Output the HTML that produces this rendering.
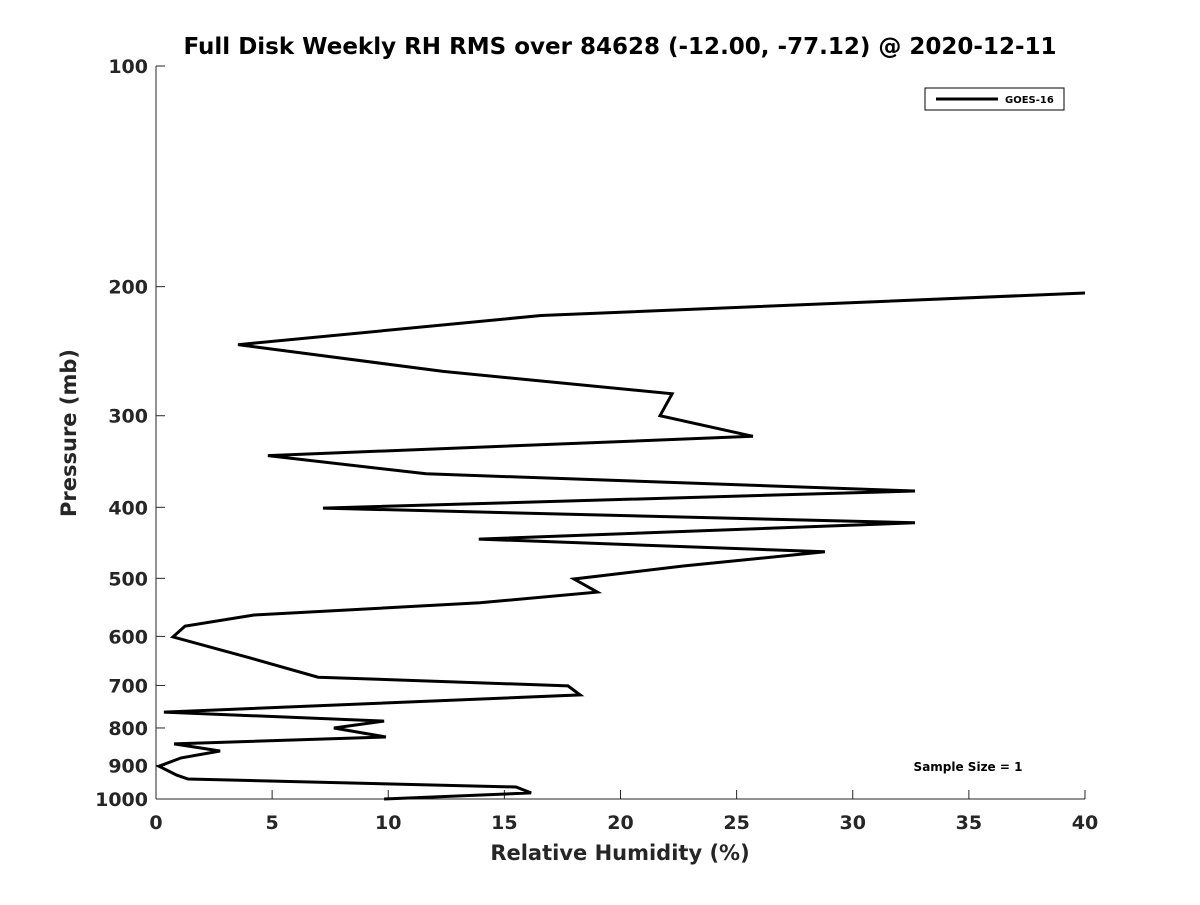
<!DOCTYPE html>
<html><head><meta charset="utf-8"><style>
body{margin:0;background:#fff;}
svg text{font-family:"DejaVu Sans","Liberation Sans",sans-serif;font-weight:bold;fill:#262626;}
</style></head><body>
<svg id="chart" width="1200" height="900">
<rect width="1200" height="900" fill="#fff"/>
<text x="620" y="54" text-anchor="middle" font-size="23" fill="#000" style="fill:#000">Full Disk Weekly RH RMS over 84628 (-12.00, -77.12) @ 2020-12-11</text>
<g id="axes"></g>
<path id="line" fill="none" stroke="#000" stroke-width="3" stroke-linejoin="miter"/>
<g>
<rect x="925" y="88" width="139" height="22" fill="#fff" stroke="#000" stroke-width="1"/>
<line x1="936" y1="99" x2="998" y2="99" stroke="#000" stroke-width="3"/>
<text x="1005" y="103" font-size="10" style="fill:#000">GOES-16</text>
</g>
<text x="968" y="771" text-anchor="middle" font-size="12" style="fill:#000">Sample Size = 1</text>
<text x="620" y="860" text-anchor="middle" font-size="21">Relative Humidity (%)</text>
<text transform="translate(76,433) rotate(-90)" text-anchor="middle" font-size="21">Pressure (mb)</text>
</svg>
<script>
const rhValues=[40,16.58,3.53,12.36,22.22,21.7,25.7,4.82,11.63,32.68,7.19,32.68,13.9,28.8,22.7,18.0,19.0,13.95,4.22,1.25,0.73,4.05,6.98,17.74,18.26,0.34,9.82,7.66,9.9,0.78,2.76,1.08,0.13,0.9,1.38,15.5,16.15,9.82];
const pressures=[204,219,240,261,280,300,320,340,360,380,401,420,442,460,481,501,522,540,561,581,601,642,682,701,721,761,783,800,823,841,860,879,902,928,939,963,981,1000];
const xTicks=[0,5,10,15,20,25,30,35,40];
const yTicks=[100,200,300,400,500,600,700,800,900,1000];
const X0=156,X1=1085,Y0=66,Y1=799;
const xs=v=>X0+(v-0)/(40-0)*(X1-X0);
const ys=p=>Y0+Math.log10(p/100)/Math.log10(10)*(Y1-Y0);
const NS="http://www.w3.org/2000/svg";
const ax=document.getElementById('axes');
function mk(t,a){const e=document.createElementNS(NS,t);for(const k in a)e.setAttribute(k,a[k]);ax.appendChild(e);return e;}
let e=mk('line',{x1:X0,y1:Y1,x2:X1,y2:Y1,stroke:'#262626','stroke-width':1});


e=mk('line',{x1:X0,y1:Y0,x2:X0,y2:Y1,stroke:'#262626','stroke-width':1});


xTicks.forEach(v=>{
 const t=mk('line',{x1:xs(v),y1:Y1,x2:xs(v),y2:Y1-9,stroke:'#262626'});
 
 
 const l=mk('text',{x:xs(v),y:Y1+30,'text-anchor':'middle','font-size':19});
 l.textContent=v;
 
 
});
yTicks.forEach(v=>{
 const t=mk('line',{x1:X0,y1:ys(v),x2:X0+9,y2:ys(v),stroke:'#262626'});
 
 
 const l=mk('text',{x:X0-8,y:ys(v)+7,'text-anchor':'end','font-size':19});
 l.textContent=v;
 
 
});
document.getElementById('line').setAttribute('d',rhValues.map((v,i)=>(i?'L':'M')+xs(v).toFixed(1)+','+ys(pressures[i]).toFixed(1)).join(' '));
</script>
</body></html>
